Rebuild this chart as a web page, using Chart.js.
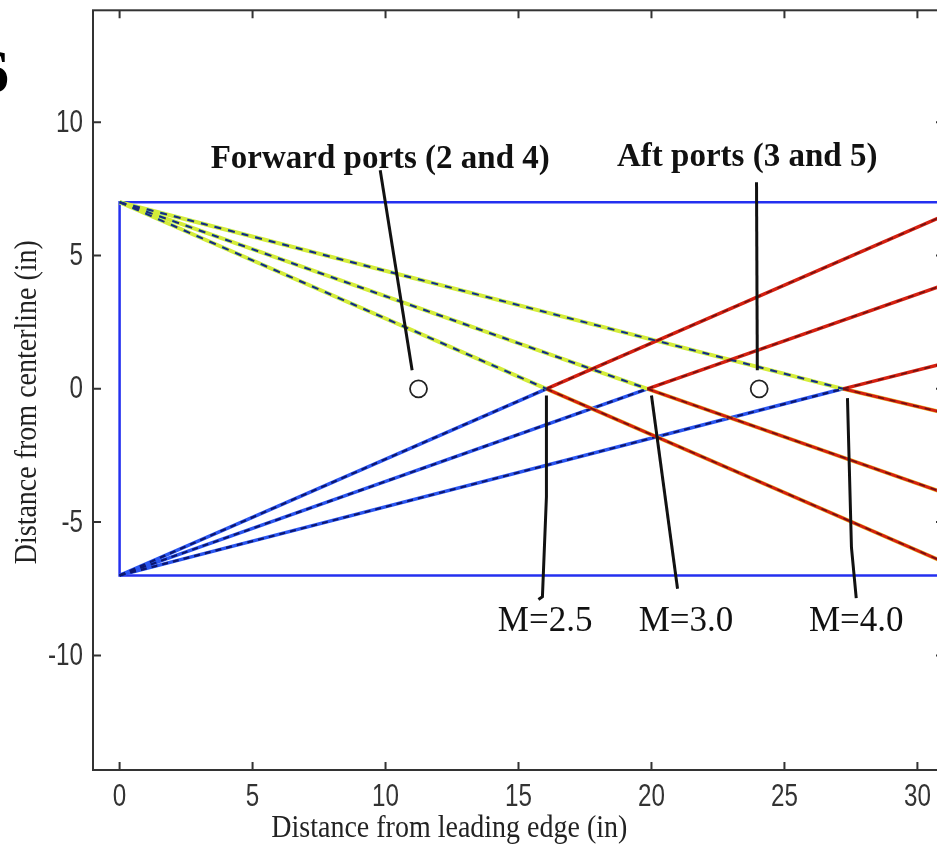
<!DOCTYPE html>
<html>
<head>
<meta charset="utf-8">
<script src="https://cdn.jsdelivr.net/npm/chart.js@4.4.1/dist/chart.umd.min.js"></script>
<style>
    html, body { margin: 0; padding: 0; background: #fff; overflow: hidden; }
    #caixa { position: relative; width: 960px; height: 845px; }
</style>
</head>
<body>
<div id="caixa"><canvas id="grafOnda"></canvas></div>
<script>
// valores (polegadas)
const machNomes = ['M=2.5', 'M=3.0', 'M=4.0'];
const cruzaX = [16.05, 19.85, 27.2];     // onde cada onda toca a linha central
const fimX = 31;
const fimDesce = [-6.5, -3.9, -0.9];     // ondas que descem, na borda direita
const fimSobe = [6.5, 3.9, 0.95];        // ondas que sobem, na borda direita
const cunhaX = [31, 0, 0, 31];
const cunhaY = [7, 7, -7, -7];
const portaX = [11.24, 24.05];
const portaY = [0, 0];
const portaNomes = ['Forward ports (2 and 4)', 'Aft ports (3 and 5)'];
const guiaX = [[9.8, 11.0], [23.95, 23.98], [16.05, 16.05, 15.9, 15.75], [20.0, 20.98], [27.37, 27.52, 27.7]];
const guiaY = [[8.2, 0.7], [7.75, 0.7], [-0.25, -4.05, -7.8, -7.9], [-0.25, -7.5], [-0.35, -5.95, -7.85]];
const xTicks = [0, 5, 10, 15, 20, 25, 30];
const yTicks = [-10, -5, 0, 5, 10];

function pts(xs, ys) {
    return xs.map(function(v, i) { return { x: v, y: ys[i] }; });
}

function linha(dados, cor, larg, tracos, ordem) {
    return {
        data: dados, showLine: true, borderColor: cor, borderWidth: larg,
        borderDash: tracos || [], pointRadius: 0, fill: false, order: ordem
    };
}

const sets = [];
sets.push(linha(pts(cunhaX, cunhaY), '#2430f0', 2.5, null, 9));
cruzaX.forEach(function(cx, i) {
    const desce = pts([0, cx], [7, 0]);
    const sobe = pts([0, cx], [-7, 0]);
    const desce2 = pts([cx, fimX], [0, fimDesce[i]]);
    const sobe2 = pts([cx, fimX], [0, fimSobe[i]]);
    sets.push(linha(desce, '#d4ec3a', 4, null, 8));
    sets.push(linha(desce, '#38c8d8', 2.4, [5, 9], 7));
    sets.push(linha(desce, '#1c2a7a', 2, [7, 7], 6));
    sets.push(linha(sobe, '#2a55f0', 3.5, null, 8));
    sets.push(linha(sobe, '#0c1670', 2.2, [6, 5], 7));
    sets.push(linha(desce2, '#e8d040', 4, null, 8));
    sets.push(linha(desce2, '#d42010', 3, null, 7));
    sets.push(linha(desce2, '#701010', 1.6, [6, 6], 6));
    sets.push(linha(sobe2, '#d42010', 3.4, null, 7));
    sets.push(linha(sobe2, '#701010', 1.6, [6, 6], 6));
});
guiaX.forEach(function(gx, i) {
    sets.push(linha(pts(gx, guiaY[i]), '#111', 3, null, 2));
});
sets.push({
    data: pts(portaX, portaY), showLine: false, pointRadius: 8.5,
    pointBackgroundColor: '#fff', pointBorderColor: '#222', pointBorderWidth: 1.8, order: 1
});

const textos = {
    id: 'textos',
    afterDraw: function(chart) {
        const ctx = chart.ctx, a = chart.chartArea;
        const sx = chart.scales.x, sy = chart.scales.y;
        ctx.save();
        // caixa e marcas para dentro
        ctx.strokeStyle = '#333';
        ctx.lineWidth = 2;
        ctx.strokeRect(a.left, a.top, a.right - a.left, a.bottom - a.top);
        ctx.beginPath();
        xTicks.forEach(function(v) {
            const p = sx.getPixelForValue(v);
            ctx.moveTo(p, a.bottom); ctx.lineTo(p, a.bottom - 8);
            ctx.moveTo(p, a.top); ctx.lineTo(p, a.top + 8);
        });
        yTicks.forEach(function(v) {
            const p = sy.getPixelForValue(v);
            ctx.moveTo(a.left, p); ctx.lineTo(a.left + 8, p);
            ctx.moveTo(a.right, p); ctx.lineTo(a.right - 8, p);
        });
        ctx.stroke();

        // rotulos dos ticks, fonte estreita
        ctx.fillStyle = '#333';
        ctx.font = '31px "Liberation Sans", sans-serif';
        ctx.textBaseline = 'middle';
        ctx.textAlign = 'center';
        xTicks.forEach(function(v) {
            ctx.save();
            ctx.translate(sx.getPixelForValue(v), a.bottom + 27);
            ctx.scale(0.78, 1);
            ctx.fillText(String(v), 0, 0);
            ctx.restore();
        });
        ctx.textAlign = 'right';
        yTicks.forEach(function(v) {
            ctx.save();
            ctx.translate(a.left - 10, sy.getPixelForValue(v) + 1);
            ctx.scale(0.78, 1);
            ctx.fillText(String(v), 0, 0);
            ctx.restore();
        });

        ctx.fillStyle = '#111';
        ctx.textAlign = 'center';
        ctx.textBaseline = 'alphabetic';
        ctx.font = 'bold 33px "Liberation Serif", serif';
        ctx.fillText(portaNomes[0], sx.getPixelForValue(9.8), sy.getPixelForValue(8.3));
        ctx.fillText(portaNomes[1], sx.getPixelForValue(23.6), sy.getPixelForValue(8.35));
        ctx.font = '35px "Liberation Serif", serif';
        const mx = [16.0, 21.3, 27.7];
        machNomes.forEach(function(m, i) {
            ctx.fillText(m, sx.getPixelForValue(mx[i]), sy.getPixelForValue(-9.1));
        });

        // titulos dos eixos
        ctx.fillStyle = '#222';
        ctx.font = '28px "Liberation Serif", serif';
        ctx.save();
        ctx.translate(sx.getPixelForValue(12.4), a.bottom + 67);
        ctx.scale(1, 1.12);
        ctx.fillText('Distance from leading edge (in)', 0, 0);
        ctx.restore();
        ctx.save();
        ctx.translate(36, sy.getPixelForValue(-0.5));
        ctx.rotate(-Math.PI / 2);
        ctx.scale(1, 1.1);
        ctx.fillText('Distance from centerline (in)', 0, 0);
        ctx.restore();

        ctx.fillStyle = '#000';
        ctx.textAlign = 'right';
        ctx.font = 'bold 62px "Liberation Serif", serif';
        ctx.fillText('6', 9, 92);
        ctx.restore();
    }
};

new Chart(document.getElementById('grafOnda').getContext('2d'), {
    type: 'scatter',
    data: { datasets: sets },
    options: {
        responsive: true,
        maintainAspectRatio: false,
        animation: false,
        events: [],
        layout: { padding: { top: 8, right: 16, left: 0, bottom: 0 } },
        plugins: { legend: { display: false }, tooltip: { enabled: false } },
        scales: {
            x: {
                type: 'linear', min: -1, max: 31,
                afterBuildTicks: function(s) { s.ticks = xTicks.map(function(v) { return { value: v }; }); },
                afterFit: function(s) { s.height = 75; s.paddingLeft = 0; s.paddingRight = 0; },
                ticks: { display: false },
                grid: { display: false, drawTicks: false },
                border: { display: false }
            },
            y: {
                type: 'linear', min: -14.3, max: 14.2,
                afterBuildTicks: function(s) { s.ticks = yTicks.map(function(v) { return { value: v }; }); },
                afterFit: function(s) { s.width = 93; s.paddingTop = 0; s.paddingBottom = 0; },
                ticks: { display: false },
                grid: { display: false, drawTicks: false },
                border: { display: false }
            }
        }
    },
    plugins: [textos]
});
</script>
</body>
</html>
